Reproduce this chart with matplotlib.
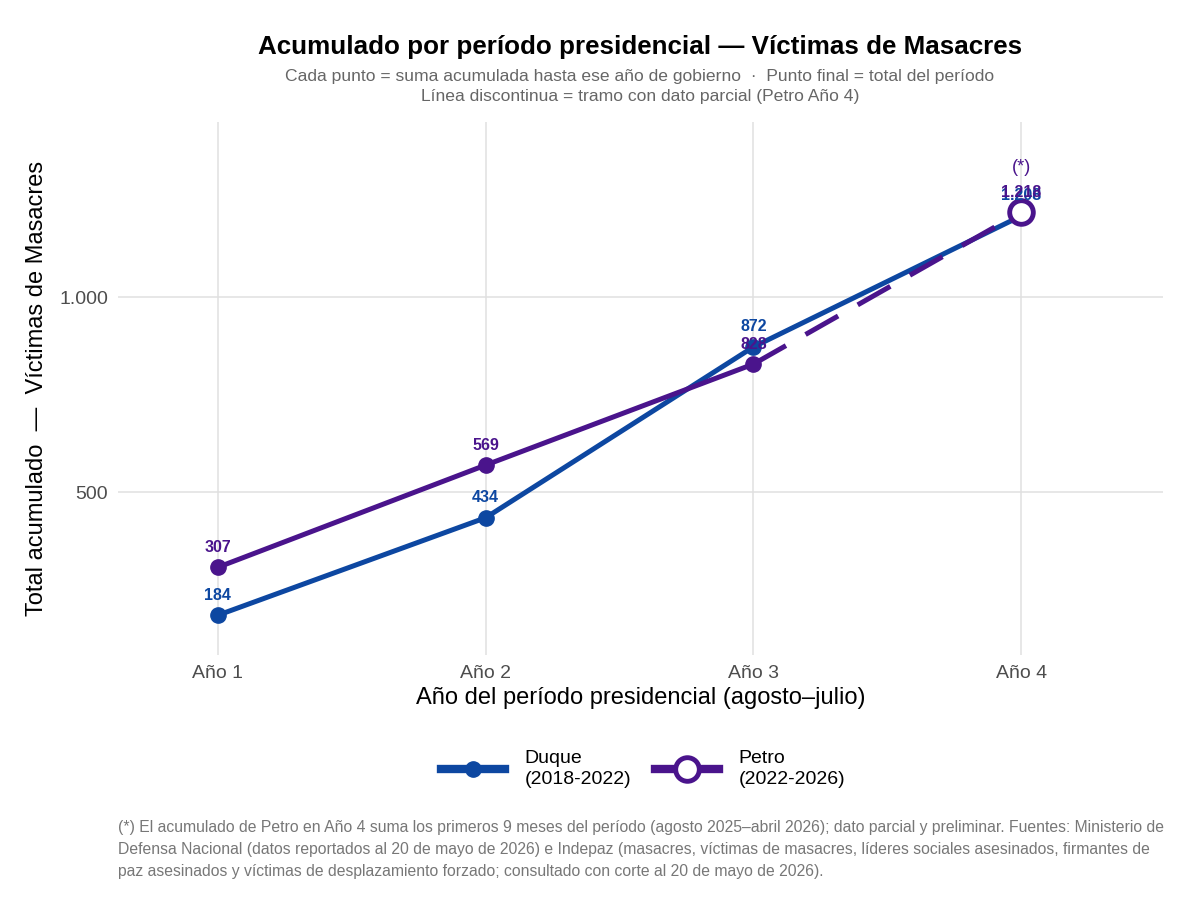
import matplotlib
matplotlib.use("Agg")
import matplotlib.pyplot as plt
from matplotlib.lines import Line2D

plt.rcParams['font.family'] = ['Liberation Sans', 'DejaVu Sans']

years = ["Año 1", "Año 2", "Año 3", "Año 4"]
duque = [184, 434, 872, 1208]
petro = [307, 569, 828, 1218]
yticks = [500, 1000]
duque_label = "Duque\n(2018-2022)"
petro_label = "Petro\n(2022-2026)"

c_duque = "#0D47A1"
c_petro = "#4A148C"

def fmt(v):
    return f"{v:,}".replace(",", ".")

fig = plt.figure(figsize=(12, 9.07), dpi=100)
ax = fig.add_axes([118/1200, 1-655/907, (1163-118)/1200, (655-122)/907])

x = list(range(1, len(years) + 1))

# Duque
ax.plot(x, duque, color=c_duque, lw=3.6, zorder=3)
ax.plot(x, duque, 'o', color=c_duque, ms=11, zorder=4)

# Petro
ax.plot(x[:3], petro[:3], color=c_petro, lw=3.6, zorder=5)
ax.plot(x[2:], petro[2:], color=c_petro, lw=3.6, ls=(0, (7.5, 4.5)), zorder=5)
ax.plot(x[:3], petro[:3], 'o', color=c_petro, ms=11, zorder=6)
ax.plot(x[3:], petro[3:], 'o', color=c_petro, mfc='white', mec=c_petro,
        ms=17, mew=3.5, zorder=7)

for xi, v in zip(x, duque):
    ax.annotate(fmt(v), (xi, v), xytext=(0, 9), textcoords='offset points',
                ha='center', va='bottom', color=c_duque, fontsize=11.5,
                fontweight='bold', zorder=8)
for xi, v in zip(x, petro):
    ax.annotate(fmt(v), (xi, v), xytext=(0, 9), textcoords='offset points',
                ha='center', va='bottom', color=c_petro, fontsize=11.5,
                fontweight='bold', zorder=9)
ax.annotate("(*)", (x[3], petro[3]), xytext=(0, 26), textcoords='offset points',
            ha='center', va='bottom', color=c_petro, fontsize=13, zorder=9)

ax.set_xlim(0.627, 4.53)
ax.set_ylim(82, 1449)
ax.set_xticks(x)
ax.set_xticklabels(years)
ax.set_yticks(yticks)
ax.set_yticklabels([fmt(v) for v in yticks])
ax.tick_params(axis='both', length=0, labelsize=14, labelcolor='#4d4d4d', pad=7)
ax.grid(True, color='#e0e0e0', lw=1.1)
ax.set_axisbelow(True)
for s in ax.spines.values():
    s.set_visible(False)

ax.set_xlabel("Año del período presidencial (agosto–julio)", fontsize=17, labelpad=4)
ax.set_ylabel("Total acumulado  —  Víctimas de Masacres", fontsize=17, labelpad=8)

fig.text(640/1200, 1-47/907, "Acumulado por período presidencial — Víctimas de Masacres",
         ha='center', va='center', fontsize=18.7, fontweight='bold')
fig.text(640/1200, 1-76/907, "Cada punto = suma acumulada hasta ese año de gobierno  ·  Punto final = total del período",
         ha='center', va='center', fontsize=12.6, color='#666666')
fig.text(640/1200, 1-96/907, "Línea discontinua = tramo con dato parcial (Petro Año 4)",
         ha='center', va='center', fontsize=12.6, color='#666666')

handles = [
    Line2D([0], [0], color=c_duque, lw=6, marker='o', ms=11),
    Line2D([0], [0], color=c_petro, lw=6, marker='o', ms=17, mfc='white', mec=c_petro, mew=3.5),
]
leg = fig.legend(handles, [duque_label, petro_label], loc='center', bbox_to_anchor=(643/1200, 1-769/907),
                 ncol=2, frameon=False, fontsize=14, handlelength=3.3, columnspacing=1.2,
                 handletextpad=1.0)
for t in leg.get_texts():
    t.set_linespacing(1.25)

foot = ("(*) El acumulado de Petro en Año 4 suma los primeros 9 meses del período (agosto 2025–abril 2026); dato parcial y preliminar. Fuentes: Ministerio de\n"
        "Defensa Nacional (datos reportados al 20 de mayo de 2026) e Indepaz (masacres, víctimas de masacres, líderes sociales asesinados, firmantes de\n"
        "paz asesinados y víctimas de desplazamiento forzado; consultado con corte al 20 de mayo de 2026).")
fig.text(118/1200, 1-820/907, foot, ha='left', va='top', fontsize=11.3, color='#777777',
         linespacing=1.6)

fig.savefig("out.png", dpi=100)
